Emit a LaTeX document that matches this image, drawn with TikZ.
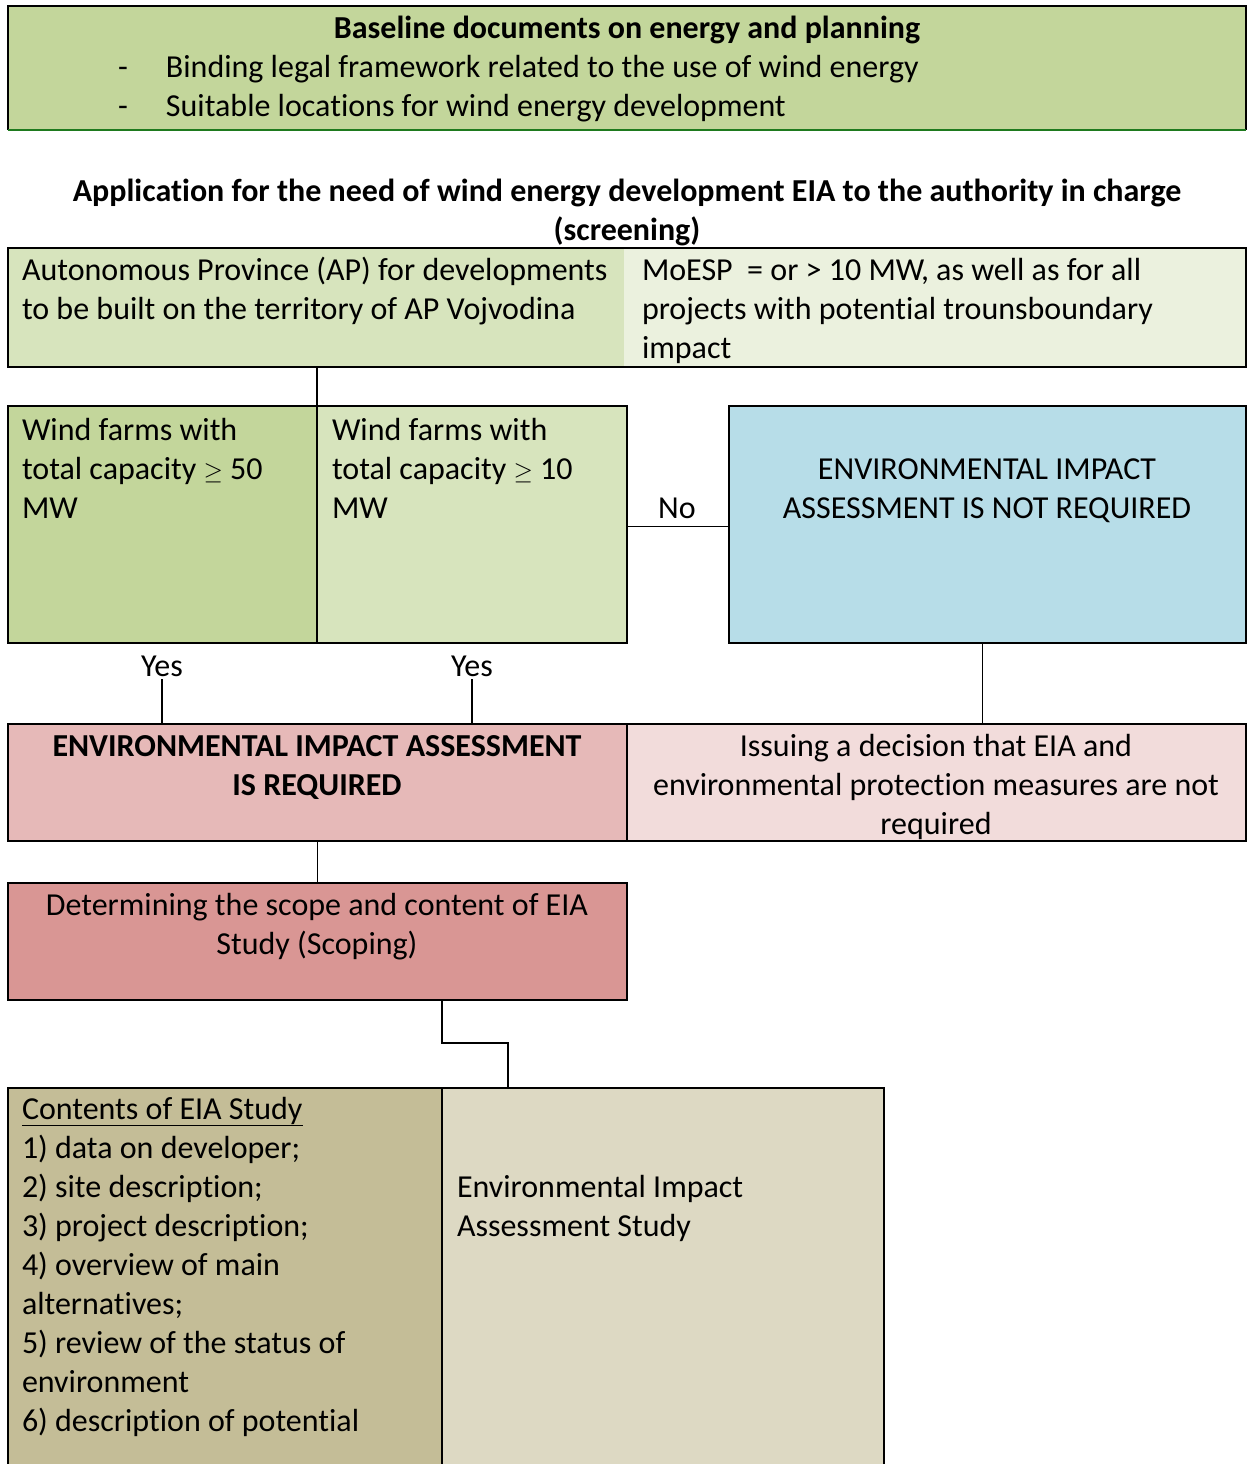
\documentclass[tikz,border=0pt]{standalone}
\usepackage{fontspec}
\setmainfont[Ligatures={NoCommon}]{Carlito}
\usetikzlibrary{calc}
\definecolor{grA}{HTML}{C3D69B}
\definecolor{grB}{HTML}{D7E4BD}
\definecolor{grC}{HTML}{EBF1DE}
\definecolor{grLine}{HTML}{1E7A1E}
\definecolor{blueA}{HTML}{B7DDE8}
\definecolor{redA}{HTML}{E6B9B8}
\definecolor{redB}{HTML}{F2DCDB}
\definecolor{redC}{HTML}{D99694}
\definecolor{tanA}{HTML}{C4BD97}
\definecolor{tanB}{HTML}{DDD9C3}
\begin{document}
\begin{tikzpicture}[x=1pt,y=-1pt,
  box/.style={draw=black, line width=2pt, inner sep=0pt, outer sep=0pt, anchor=north west},
  fillbox/.style={draw=none, inner sep=0pt, outer sep=0pt, anchor=north west},
  conn/.style={draw=black, line width=1.3pt},
  txt/.style={inner sep=0pt, outer sep=0pt, font=\fontsize{32}{39}\selectfont},
  btxt/.style={txt, font=\fontsize{32}{39}\selectfont\bfseries}]
\useasboundingbox (0,0) rectangle (1248,1464);
\clip (0,0) rectangle (1248,1464);
% top box
\node[fillbox, fill=grA, minimum width=1238pt, minimum height=124pt] (base) at (8,6) {};
\draw[line width=2pt] (base.south west) -- (base.north west) -- (base.north east) -- (base.south east);
\draw[grLine, line width=2.2pt] (base.south west) -- (base.south east);
\node[btxt, anchor=base] (basetitle) at (627,39) {Baseline documents on energy and planning};
\node[txt, anchor=base west, align=left] (baselist) at (118,116) {\makebox[48pt][l]{-}Binding legal framework related to the use of wind energy\\\makebox[48pt][l]{-}Suitable locations for wind energy development};
% application title
\node[btxt, anchor=base, align=center] (apptitle) at (627,240) {Application for the need of wind energy development EIA to the authority in charge\\(screening)};
% screening box
\node[box, fill=grB, minimum width=1238pt, minimum height=119pt,
  path picture={\fill[grC] ([xshift=616pt]path picture bounding box.north west) rectangle (path picture bounding box.south east);}] (screen) at (8,248) {};
\node[txt, anchor=base west, align=left] (aptext) at (22,319) {Autonomous Province (AP) for developments\\to be built on the territory of AP Vojvodina};
\node[txt, anchor=base west, align=left] (moesp) at (642,358) {MoESP\ \ = or > 10 MW, as well as for all\\projects with potential trounsboundary\\impact};
% row 2
\node[box, fill=grA, minimum width=309pt, minimum height=237pt] (wf50) at (8,406) {};
\node[box, fill=grB, minimum width=310pt, minimum height=237pt] (wf10) at (317,406) {};
\node[box, fill=blueA, minimum width=517pt, minimum height=237pt] (notreq) at (729,406) {};
\node[txt, anchor=base west, align=left] (wf50t) at (22,518) {Wind farms with\\total capacity $\geq$ 50\\MW};
\node[txt, anchor=base west, align=left] (wf10t) at (332,518) {Wind farms with\\total capacity $\geq$ 10\\MW};
\node[txt, anchor=base, align=center] (notreqt) at (987,518) {ENVIRONMENTAL IMPACT\\ASSESSMENT IS NOT REQUIRED};
\node[txt, anchor=base] (no) at (677,518) {No};
% row 3
\node[box, fill=redA, minimum width=619pt, minimum height=117pt] (req) at (8,724) {};
\node[box, fill=redB, minimum width=619pt, minimum height=117pt, line width=1.3pt] (dec) at (627,724) {};
\draw[line width=2pt] (dec.north west) -- (dec.north east) -- (dec.south east) -- (dec.south west);
\node[btxt, anchor=base, align=center] (reqt) at (317,795) {ENVIRONMENTAL IMPACT ASSESSMENT\\IS REQUIRED};
\node[txt, anchor=base, align=center] (dect) at (936,834) {Issuing a decision that EIA and\\environmental protection measures are not\\required};
\node[txt, anchor=base] (yes1) at (162,676) {Yes};
\node[txt, anchor=base] (yes2) at (472,676) {Yes};
% scoping
\node[box, fill=redC, minimum width=619pt, minimum height=117pt] (scoping) at (8,883) {};
\node[txt, anchor=base, align=center] (scopingt) at (317,954) {Determining the scope and content of EIA\\Study (Scoping)};
% bottom
\node[box, fill=tanA, minimum width=434pt, minimum height=420pt] (contents) at (8,1088) {};
\node[box, fill=tanB, minimum width=442pt, minimum height=420pt] (study) at (442,1088) {};
\node[txt, anchor=base west, align=left] (contentst) at (22,1431) {\underline{Contents of EIA Study}\\1) data on developer;\\2) site description;\\3) project description;\\4) overview of main\\alternatives;\\5) review of the status of\\environment\\6) description of potential};
\node[txt, anchor=base west, align=left] (studyt) at (457,1236) {Environmental Impact\\Assessment Study};
% connectors
\coordinate (bend) at (508,1043);
\draw[conn] (screen.south -| wf50.north east) -- (wf50.north east);
\draw[conn] ([yshift=-2pt]wf10.east) -- ([yshift=-2pt]notreq.west);
\draw[conn] ([yshift=-3pt]yes1.south) -- (yes1.south |- req.north);
\draw[conn] ([yshift=-3pt]yes2.south) -- (yes2.south |- req.north);
\draw[conn] ([xshift=-5pt]notreq.south) -- ([xshift=-5pt]notreq.south |- dec.north);
\draw[conn] (req.south) -- (scoping.north);
\draw[conn] (scoping.south -| contents.north east) |- (bend) -- (bend |- study.north);
\end{tikzpicture}
\end{document}
